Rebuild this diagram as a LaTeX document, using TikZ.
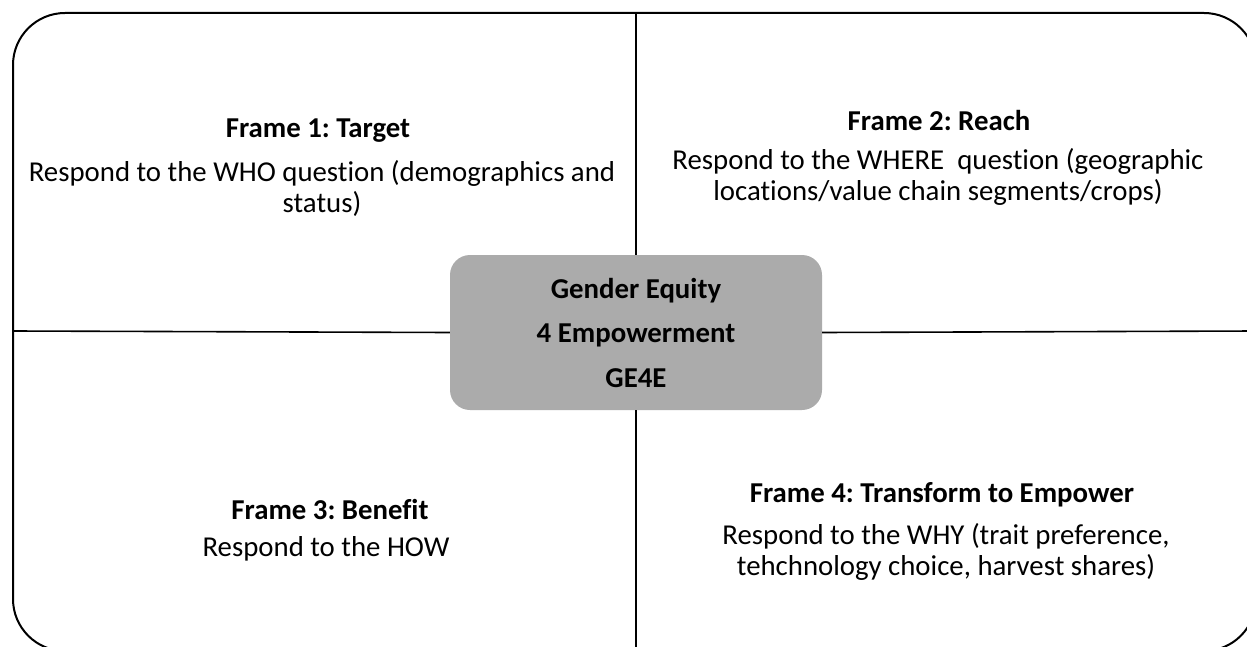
\documentclass[tikz,border=0pt]{standalone}
\usepackage{fontspec}
\setmainfont{Carlito}[Ligatures={NoCommon}]
\definecolor{boxgray}{HTML}{ABABAB}
\begin{document}
\frenchspacing
\begin{tikzpicture}[x=1pt,y=-1pt,
  frame/.style={draw=black,line width=2pt,rounded corners=52pt},
  divider/.style={draw=black,line width=1.6pt},
  hub/.style={fill=boxgray,rounded corners=20pt,minimum width=372pt,minimum height=155pt,inner sep=0pt,align=center,font=\bfseries\fontsize{28.8}{44.5}\selectfont},
  title/.style={font=\bfseries\fontsize{28.8}{31}\selectfont,inner sep=0pt},
  body/.style={font=\fontsize{28.8}{31.5}\selectfont,align=center,inner sep=0pt}]
\useasboundingbox (0,0) rectangle (1247,647);
\path[frame] (13,13) rectangle (1256,651);
\node[hub] (hub) at (636,332.5) {Gender Equity\\4 Empowerment\\GE4E};
\coordinate (top) at (636,13);
\coordinate (bot) at (636,651);
\coordinate (lft) at (13,331);
\coordinate (rgt) at (1256,331);
\path[divider] (top) -- (hub.north);
\path[divider] (hub.south) -- (bot);
\path[divider] (lft) -- (hub.west);
\path[divider] (hub.east) -- (rgt);
\node[title] (t1) at (318,131) {Frame 1: Target};
\node[body,anchor=north] (b1) at (322,160) {Respond to the WHO question (demographics and\\status)};
\node[title] (t2) at (939,121) {Frame 2: Reach};
\node[body,anchor=north] (b2) at (938,148) {Respond to the WHERE\ \ question (geographic\\locations/value chain segments/crops)};
\node[title] (t3) at (330,509) {Frame 3: Benefit};
\node[body,anchor=north] (b3) at (326,536) {Respond to the HOW};
\node[title] (t4) at (942,495) {Frame 4: Transform to Empower};
\node[body,anchor=north] (b4) at (946,523) {Respond to the WHY (trait preference,\\tehchnology choice, harvest shares)};
\end{tikzpicture}
\end{document}
